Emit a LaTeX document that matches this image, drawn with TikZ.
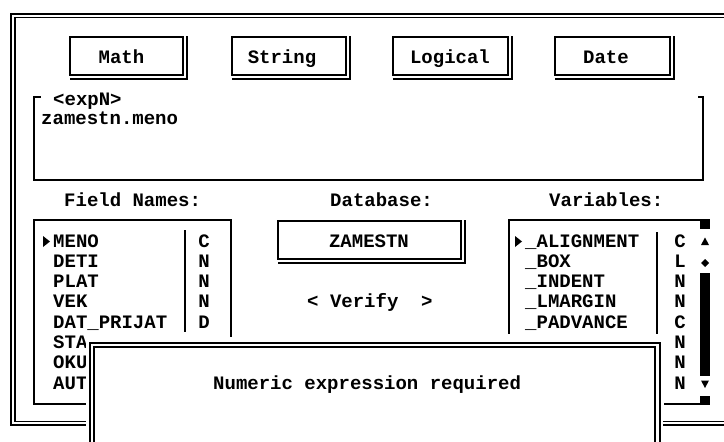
\documentclass[tikz,border=0pt]{standalone}
\usepackage{fontspec}
\setmonofont{Liberation Mono}
\usetikzlibrary{calc}
\begin{document}
\begin{tikzpicture}[x=1pt,y=-1pt,
  ln/.style={line width=1.8pt,line cap=rect},
  thin/.style={line width=1.5pt,line cap=rect},
  txt/.style={font=\ttfamily\bfseries\fontsize{19}{19}\selectfont,inner sep=0pt,text height=11pt,text depth=0pt},
  btnbox/.style={draw,line width=1.8pt,inner sep=0pt,minimum height=38pt,anchor=north west},
  blk/.style={fill=black}
]
\useasboundingbox (0,0) rectangle (724,442);
\fill[white] (0,0) rectangle (724,442);
% outer frame (double)
\draw[line width=2pt] (730,13.5) -- (11,13.5) -- (11,425) -- (730,425);
\draw[thin] (730,17.5) -- (15,17.5) -- (15,421.5) -- (730,421.5);
% function buttons
\node[btnbox,minimum width=113pt] (bmath) at (69,36) {};
\node[btnbox,minimum width=114pt] (bstring) at (231,36) {};
\node[btnbox,minimum width=115pt] (blogical) at (392,36) {};
\node[btnbox,minimum width=115pt] (bdate) at (554,36) {};
\foreach \b in {bmath,bstring,blogical,bdate}
  \draw[thin] ($(\b.south west)+(2,3)$) -| ($(\b.north east)+(3,1)$);
\node[txt] (tmath) at (121.5,57.5) {Math};
\node[txt] (tstring) at (282,57.5) {String};
\node[txt] (tlogical) at (450,57.5) {Logical};
\node[txt] (tdate) at (606,57.5) {Date};
% expression box
\draw[ln] (40,97) -- (34,97) -- (34,180) -- (703,180) -- (703,97) -- (699,97);
\node[txt,anchor=west] (expn) at (53,99.5) {<expN>};
\node[txt,anchor=west] (expr) at (41,118.5) {zamestn.meno};
% labels
\node[txt,anchor=west] (lfield) at (64,200.5) {Field Names:};
\node[txt,anchor=west] (ldb) at (330,200.5) {Database:};
\node[txt,anchor=west] (lvar) at (549,200.5) {Variables:};
% field names list
\draw[ln] (231,336) -- (231,220) -- (34,220) -- (34,404) -- (88,404);
\draw[ln] (185,231) -- (185,331);
\fill[blk] (43,236) -- (50,241.5) -- (43,247) -- cycle;
\foreach \n/\t [count=\i from 0] in {MENO/C,DETI/N,PLAT/N,VEK/N,DAT\_PRIJAT/D,STA/,OKU/,AUT/}{
  \node[txt,anchor=west] (fn\i) at (53,241.5+20.3*\i) {\n};
  \node[txt] (ft\i) at (204,241.5+20.3*\i) {\t};
}
% database button
\node[btnbox,minimum width=183pt] (bdb) at (277,220) {};
\draw[thin] ($(bdb.south west)+(2,3)$) -| ($(bdb.north east)+(3,1)$);
\node[txt] (tdb) at (369,241.5) {ZAMESTN};
\node[txt,anchor=west] (verify) at (307,301.5) {< Verify\ \ >};
% variables list
\draw[ln] (509,333) -- (509,220) -- (700,220);
\draw[ln] (657,233) -- (657,333);
\draw[thin] (665,404) -- (700,404);
\fill[blk] (515,236) -- (522,241.5) -- (515,247) -- cycle;
\foreach \n [count=\i from 0] in {\_ALIGNMENT,\_BOX,\_INDENT,\_LMARGIN,\_PADVANCE}
  \node[txt,anchor=west] (vn\i) at (525,241.5+20.3*\i) {\n};
\foreach \t [count=\i from 0] in {C,L,N,N,C,N,N,N}
  \node[txt] (vt\i) at (680,241.5+20.3*\i) {\t};
% scrollbar
\fill[blk] (700,219) rectangle (710,229);
\fill[blk] (701,245) -- (709,245) -- (705,237.5) -- cycle;
\fill[blk] (705,259) -- (709,263) -- (705,267) -- (701,263) -- cycle;
\fill[blk] (700,273) rectangle (710,376);
\fill[blk] (701,380.5) -- (709,380.5) -- (705,388) -- cycle;
\fill[blk] (700,396) rectangle (710,405);
% error dialog
\fill[white] (86,337) rectangle (663,445);
\draw[line width=2pt] (89.5,445) -- (89.5,343) -- (659.5,343) -- (659.5,445);
\draw[line width=2pt] (94,445) -- (94,347) -- (655,347) -- (655,445);
\node[txt,anchor=west] (msg) at (213,383.5) {Numeric expression required};
\end{tikzpicture}
\end{document}
